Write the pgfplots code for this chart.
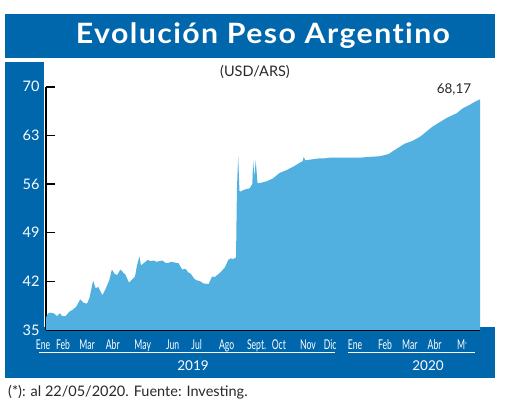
\documentclass[border=0pt]{standalone}
\usepackage{fontspec}
\setmainfont{Lato}
\newfontfamily\condfont[FakeStretch=0.64]{Lato}
\newfontfamily\titlefont[FakeStretch=1.08, LetterSpace=5, Ligatures={NoCommon}]{Lato}
\usepackage{pgfplots}
\usepackage{pgfplotstable}
\pgfplotsset{compat=1.18}
\definecolor{barblue}{RGB}{0,103,172}
\definecolor{areablue}{RGB}{82,176,224}
\definecolor{txt}{RGB}{40,40,40}
\pgfplotstableread{
d v
0 36.8
2 37.3
4 37.5
9 37.4
13 37.0
16 37.4
19 37.0
23 37.0
27 37.6
31 37.9
35 38.3
40 39.4
44 38.9
48 38.8
51 39.7
55 42.1
58 41.0
61 41.2
66 40.0
70 41.0
74 42.2
77 43.7
80 43.1
83 42.9
87 43.7
93 42.9
97 41.8
100 42.2
104 42.7
106 44.1
109 45.6
111 44.3
114 44.6
119 45.1
122 44.9
126 45.0
129 44.8
132 44.9
136 45.0
139 44.7
142 44.6
146 44.8
151 44.7
155 44.6
159 43.7
163 43.8
166 43.3
169 43.1
173 42.4
175 42.2
180 42.0
184 41.7
190 41.6
194 42.7
197 42.6
203 43.2
209 44.0
213 45.1
216 45.3
219 45.2
221 45.4
222 45.4
223 55.0
224.5 60.1
226 55.0
227 54.9
232 55.2
238 55.4
241 56.0
242 59.4
243.5 57.0
245 59.4
247 56.2
248 56.1
252 56.2
258 56.4
265 56.8
273 57.6
281 58.0
289 58.5
297 59.1
300 59.3
301 59.9
303 59.4
308 59.5
314 59.6
320 59.7
326 59.7
332 59.8
343 59.8
355 59.8
367 59.8
378 59.9
390 60.0
400 60.3
410 61.1
419 61.8
428 62.2
437 62.8
445 63.6
452 64.3
460 64.9
468 65.5
480 66.2
487 66.9
495 67.4
502 67.9
507 68.17
}\usdars
\begin{document}
\begin{tikzpicture}[x=1pt,y=1pt]
\useasboundingbox (0,0) rectangle (520,404);
% title bar
\fill[barblue] (5,346) rectangle (495,390);
\node[text=white,font=\titlefont\bfseries\fontsize{28}{28}\selectfont] at (263,368) {Evolución Peso Argentino};
% left strip and bottom bar
\fill[barblue] (5,26) rectangle (44,342);
\fill[barblue] (5,26) rectangle (495,77);
\begin{axis}[
  at={(46pt,74pt)}, anchor=south west,
  scale only axis, width=434pt, height=243.3pt,
  xmin=0, xmax=507, ymin=35, ymax=70,
  axis x line*=bottom, axis y line*=left,
  axis line style={-, black, line width=1.6pt},
  ytick={35,42,49,56,63,70},
  yticklabel style={text=white, font=\fontsize{14.5}{14.5}\selectfont, xshift=-3pt},
  /pgf/number format/assume math mode=true,
  ytick style={black, line width=1.6pt},
  tick align=inside,
  major tick length=9pt,
  xtick={20,48,78,113,148,176,211,246,272,306,332,361,396,425,454,486},
  xticklabels={Feb,Mar,Abr,May,Jun,Jul,Ago,Sept.,Oct,Nov,Dic,Ene,Feb,Mar,Abr,{M\raisebox{0.35ex}{\fontsize{7}{7}\selectfont *}}},
  extra x ticks={0},
  extra x tick labels={Ene},
  extra x tick style={xticklabel style={xshift=-3pt}},
  xtick style={draw=none},
  xticklabel style={text=white, font=\condfont\fontsize{13.5}{13.5}\selectfont, yshift=-6.5pt},
]
\addplot[fill=areablue, draw=none] table[x=d, y=v] {\usdars} \closedcycle;
\draw[black, line width=1.4pt] (rel axis cs:1,0) -- ++(0pt,-3pt);
\end{axis}
% year underlines and labels
\draw[white, line width=0.9pt] (39,51.5) -- (335,51.5);
\draw[white, line width=0.9pt] (348,51.5) -- (475,51.5);
\node[text=white, font=\fontsize{13.5}{13.5}\selectfont] at (193,38) {2019};
\node[text=white, font=\fontsize{13.5}{13.5}\selectfont] at (428,38) {2020};
% texts
\node[text=txt, font=\fontsize{14.5}{14.5}\selectfont] at (255,332) {(USD/ARS)};
\node[text=txt, font=\fontsize{13.5}{13.5}\selectfont] at (454,314) {68,17};
\node[text=txt, font=\fontsize{14.5}{14.5}\selectfont, anchor=west, inner sep=0pt] at (8,12) {(*): al 22/05/2020. Fuente: Investing.};
\end{tikzpicture}
\end{document}
